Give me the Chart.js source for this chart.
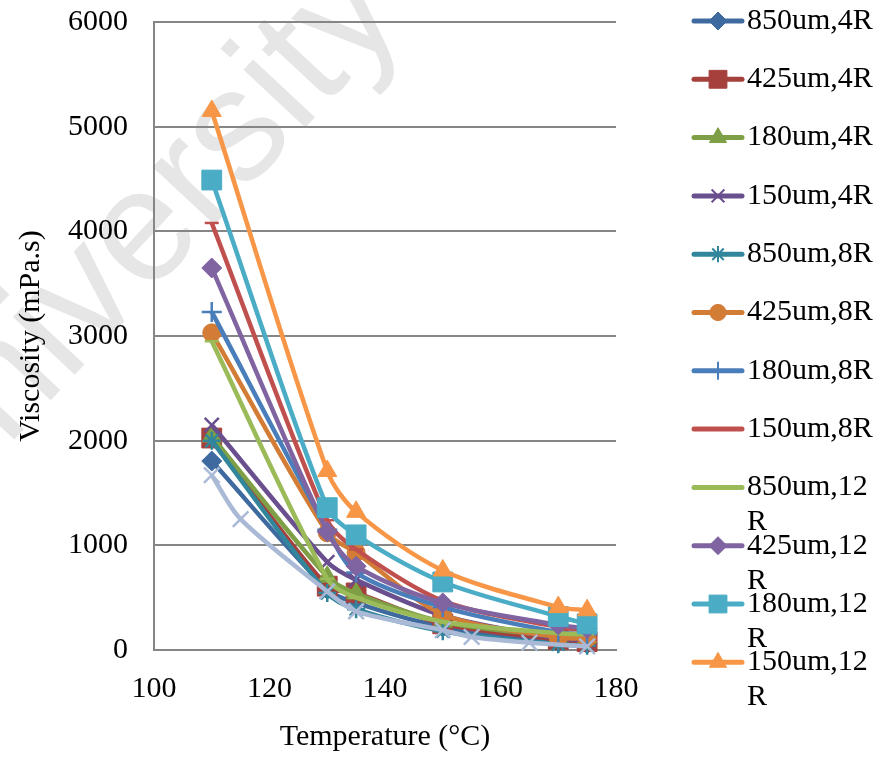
<!DOCTYPE html>
<html>
<head>
<meta charset="utf-8">
<script src="https://cdn.jsdelivr.net/npm/chart.js@4.4.1/dist/chart.umd.min.js"></script>
<style>
  body { margin: 0; background: #fff; }
  #wrap { position: absolute; left: 0; top: 0; width: 877px; height: 757px; }
</style>
</head>
<body>
<div id="wrap"><canvas id="chartVisc" width="877" height="757"></canvas></div>
<script>
// temperatures (°C) used for the 12 named series
var temps = [110, 130, 135, 150, 170, 175];

var names = ['850um,4R', '425um,4R', '180um,4R', '150um,4R',
             '850um,8R', '425um,8R', '180um,8R', '150um,8R',
             '850um,12R', '425um,12R', '180um,12R', '150um,12R'];

// viscosity (mPa.s)
var v850_4R  = [1805, 580, 450, 220, 75, 60];
var v425_4R  = [2025, 610, 545, 250, 100, 80];
var v180_4R  = [2040, 700, 540, 270, 130, 120];
var v150_4R  = [2150, 840, 670, 330, 110, 95];
var v850_8R  = [2000, 545, 390, 180, 55, 40];
var v425_8R  = [3030, 1120, 930, 340, 120, 110];
var v180_8R  = [3230, 1150, 740, 410, 170, 150];
var v150_8R  = [4080, 1240, 960, 470, 220, 190];
var v850_12R = [2950, 680, 500, 270, 160, 150];
var v425_12R = [3650, 1130, 800, 450, 240, 205];
var v180_12R = [4490, 1360, 1100, 650, 320, 250];
var v150_12R = [5150, 1710, 1320, 760, 410, 380];

// 13th series, its legend entry is cut off in the original
var extraTemps = [110, 115, 130, 135, 150, 155, 165, 175];
var extraVals  = [1670, 1250, 560, 370, 190, 125, 70, 35];

var yTicks = [0, 1000, 2000, 3000, 4000, 5000, 6000];
var xTicks = [100, 120, 140, 160, 180];

var allVals = [v850_4R, v425_4R, v180_4R, v150_4R, v850_8R, v425_8R,
               v180_8R, v150_8R, v850_12R, v425_12R, v180_12R, v150_12R];

var colors = ['#3e6aa0', '#a5403d', '#7e9f45', '#6a4f8e', '#31869b', '#d37c36',
              '#4a7ebb', '#c0504d', '#9bbb59', '#8064a2', '#4bacc6', '#f79646'];
var styles = ['rectRot', 'rect', 'triangle', 'crossRot', 'star', 'circle',
              'cross', 'line', 'line', 'rectRot', 'rect', 'triangle'];
var radii  = [10, 14, 11, 10, 9, 9, 10, 7, 7, 10, 14, 11];

function pts(xs, ys) {
  return xs.map(function (x, i) { return { x: x, y: ys[i] }; });
}

var datasets = names.map(function (n, i) {
  var thin = (styles[i] === 'crossRot' || styles[i] === 'star' || styles[i] === 'cross' || styles[i] === 'line');
  return {
    label: n,
    data: pts(temps, allVals[i]),
    borderColor: colors[i],
    backgroundColor: colors[i],
    borderWidth: 4.5,
    pointStyle: styles[i],
    pointRadius: radii[i],
    pointBorderWidth: thin ? 2.5 : 1,
    tension: 0.3,
    clip: false,
    order: 20 - i
  };
});
datasets.push({
  label: '',
  data: pts(extraTemps, extraVals),
  borderColor: '#a9b9d6',
  backgroundColor: '#a9b9d6',
  borderWidth: 4.5,
  pointStyle: 'crossRot',
  pointRadius: 11,
  pointBorderWidth: 2.5,
  tension: 0.3,
  clip: false,
  order: 1
});

var serif = "'Liberation Serif', 'Times New Roman', serif";
var fsize = 30;

// faint "University" watermark behind the plot
var watermark = {
  id: 'watermark',
  beforeDraw: function (chart) {
    var ctx = chart.ctx;
    ctx.save();
    ctx.fillStyle = '#ffffff';
    ctx.fillRect(0, 0, chart.width, chart.height);
    ctx.translate(-72, 532);
    ctx.rotate(-47 * Math.PI / 180);
    ctx.font = "160px 'Liberation Sans', Arial, sans-serif";
    ctx.fillStyle = '#e6e6e6';
    ctx.textBaseline = 'alphabetic';
    ctx.fillText('University', 0, 0);
    ctx.restore();
  }
};

// legend on the right, the long names wrap like the original
var sideLegend = {
  id: 'sideLegend',
  afterDraw: function (chart) {
    var ctx = chart.ctx;
    var y0 = 21, step = 58.3;
    ctx.save();
    ctx.font = fsize + 'px ' + serif;
    ctx.textBaseline = 'middle';
    ctx.textAlign = 'left';
    for (var i = 0; i < names.length; i++) {
      var y = y0 + i * step;
      ctx.strokeStyle = colors[i];
      ctx.fillStyle = colors[i];
      ctx.lineWidth = 5;
      ctx.lineCap = 'round';
      ctx.beginPath();
      ctx.moveTo(694, y);
      ctx.lineTo(742, y);
      ctx.stroke();
      if (styles[i] !== 'line') {
        var thin = (styles[i] === 'crossRot' || styles[i] === 'star' || styles[i] === 'cross');
        ctx.lineWidth = thin ? 2 : 1;
        ctx.lineCap = 'butt';
        Chart.helpers.drawPoint(ctx, { pointStyle: styles[i], radius: radii[i] * 0.9, rotation: 0, borderWidth: ctx.lineWidth }, 718, y);
      }
      ctx.fillStyle = '#000';
      var txt = names[i];
      if (txt.length > 8) {
        ctx.fillText(txt.slice(0, -1), 747, y);
        ctx.fillText(txt.slice(-1), 747, y + 35);
      } else {
        ctx.fillText(txt, 747, y);
      }
    }
    ctx.restore();
  }
};

var ctx = document.getElementById('chartVisc').getContext('2d');
var chartVisc = new Chart(ctx, {
  type: 'line',
  data: { datasets: datasets },
  options: {
    responsive: false,
    animation: false,
    devicePixelRatio: 1,
    layout: { padding: { left: 0, right: 261, top: 22, bottom: 0 } },
    plugins: { legend: { display: false }, tooltip: { enabled: false } },
    scales: {
      x: {
        type: 'linear',
        min: 100, max: 180,
        afterBuildTicks: function (s) { s.ticks = xTicks.map(function (v) { return { value: v }; }); },
        afterFit: function (s) { s.height = 107; },
        grid: { display: false, drawTicks: false },
        border: { display: true, color: '#868686', width: 2 },
        ticks: { color: '#000', font: { family: serif, size: fsize }, padding: 21, maxRotation: 0,
                 callback: function (v) { return String(v); } },
        title: { display: true, text: 'Temperature (°C)', color: '#000',
                 font: { family: serif, size: fsize }, padding: { top: 0, bottom: 2 } }
      },
      y: {
        min: 0, max: 6000,
        afterBuildTicks: function (s) { s.ticks = yTicks.map(function (v) { return { value: v }; }); },
        afterFit: function (s) { s.width = 154; s.paddingTop = 0; s.paddingBottom = 0; },
        grid: { color: '#868686', lineWidth: 2, drawTicks: false },
        border: { display: true, color: '#868686', width: 2 },
        ticks: { color: '#000', font: { family: serif, size: fsize }, padding: 26,
                 callback: function (v) { return String(v); } },
        title: { display: true, text: 'Viscosity (mPa.s)', color: '#000',
                 font: { family: serif, size: fsize }, padding: { top: 13, bottom: 0 } }
      }
    }
  },
  plugins: [watermark, sideLegend]
});
</script>
</body>
</html>
